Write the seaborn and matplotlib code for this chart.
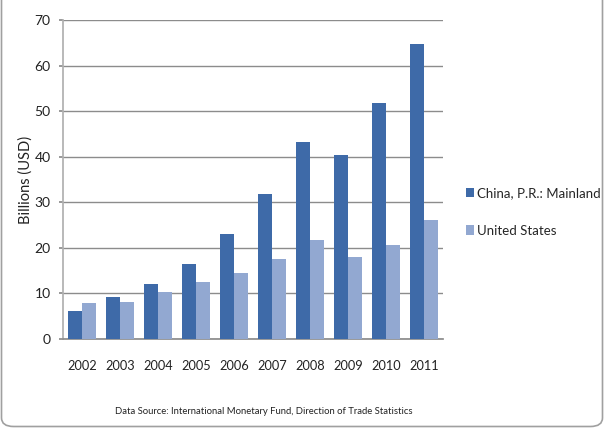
import matplotlib
matplotlib.use("Agg")
import matplotlib.pyplot as plt
from matplotlib.patches import FancyBboxPatch
import seaborn as sns
import pandas as pd

years = ["2002", "2003", "2004", "2005", "2006", "2007", "2008", "2009", "2010", "2011"]
china = [6.2, 9.2, 12.1, 16.4, 23.0, 31.9, 43.3, 40.4, 51.7, 64.8]
usa = [7.8, 8.2, 10.4, 12.4, 14.4, 17.6, 21.8, 18.1, 20.6, 26.2]
series = ["China, P.R.: Mainland", "United States"]
colors = ["#3E6AA8", "#92A8D1"]

df = pd.DataFrame({
    "Year": years * 2,
    "Value": china + usa,
    "Series": [series[0]] * len(years) + [series[1]] * len(years),
})

sns.set_theme(style="white")
plt.rcParams["font.family"] = ["Lato", "DejaVu Sans"]

fig = plt.figure(figsize=(6.05, 4.33), dpi=100)
ax = fig.add_axes([63 / 605, 1 - 339 / 433, 380 / 605, 319 / 433])

sns.barplot(data=df, x="Year", y="Value", hue="Series", palette=colors,
            width=0.76, gap=0, saturation=1, ax=ax, legend=True, zorder=3,
            edgecolor="none", linewidth=0)

ax.set_ylim(0, 70)
ax.set_yticks(range(0, 71, 10))
ax.set_xlim(-0.5, len(years) - 0.5)
ax.yaxis.grid(True, color="#8C8C8C", linewidth=1.0, zorder=0)
ax.set_axisbelow(True)
ax.set_xlabel("")
ax.set_ylabel("Billions (USD)", fontsize=10.5, color="#222222")
ax.yaxis.set_label_coords(-0.08, 0.5)
for s in ["top", "right"]:
    ax.spines[s].set_visible(False)
ax.spines["left"].set_color("#B0B0B0")
ax.spines["bottom"].set_color("#8C8C8C")
ax.tick_params(axis="y", length=3, color="#8C8C8C", pad=6, labelsize=10, labelcolor="#222222", left=True)
ax.tick_params(axis="x", length=0, pad=15, labelsize=9.2, labelcolor="#222222")

handles, labels = ax.get_legend_handles_labels()
ax.get_legend().remove()
fig.legend(handles, labels, loc="center left", bbox_to_anchor=(461 / 605, 1 - 212 / 433),
           frameon=False, fontsize=9.5, handlelength=0.6, handleheight=0.7,
           handletextpad=0.25, labelspacing=1.9, borderaxespad=0)

fig.text(264 / 605, 1 - 412 / 433,
         "Data Source: International Monetary Fund, Direction of Trade Statistics",
         ha="center", va="center", fontsize=6.8, color="#222222")

# rounded chart-area border, its top lying above the image
border = FancyBboxPatch((1.5 / 605, 1 - 426.5 / 433), 601 / 605, 1.2,
                        boxstyle="round,pad=0,rounding_size=0.02",
                        transform=fig.transFigure, facecolor="none",
                        edgecolor="#A0A0A0", linewidth=1.2)
fig.patches.append(border)

fig.savefig("out.png", dpi=100)
